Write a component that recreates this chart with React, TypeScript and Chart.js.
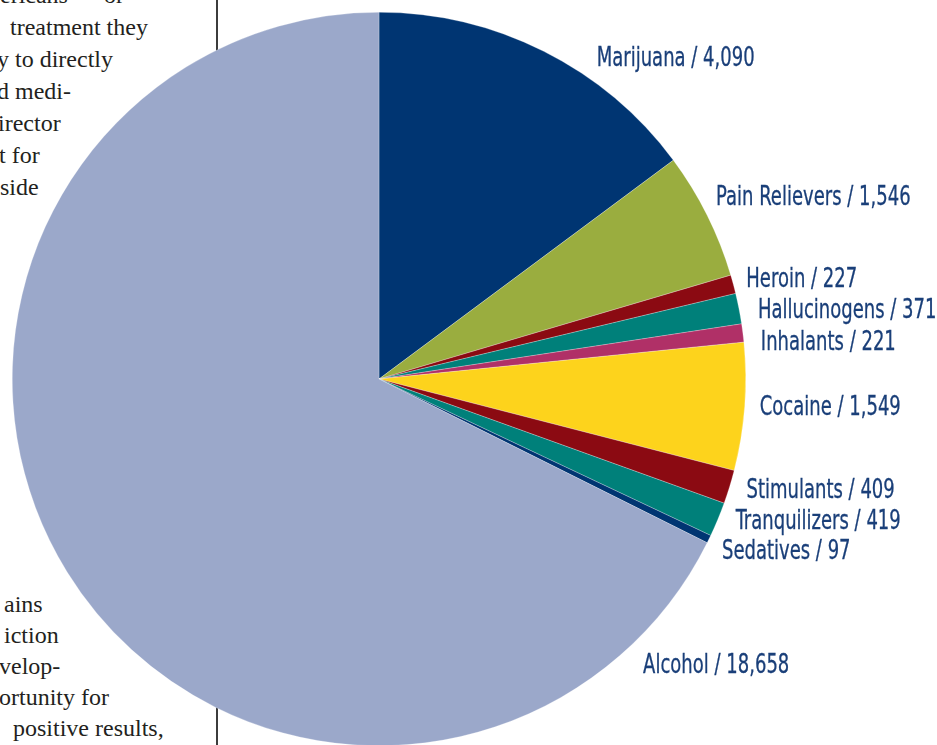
import React, { useEffect, useRef } from "react";
import { Chart, registerables } from "chart.js";

Chart.register(...registerables);

const categories = [
  "Marijuana",
  "Pain Relievers",
  "Heroin",
  "Hallucinogens",
  "Inhalants",
  "Cocaine",
  "Stimulants",
  "Tranquilizers",
  "Sedatives",
  "Alcohol",
];
const admissions = [4090, 1546, 227, 371, 221, 1549, 409, 419, 97, 18658];
const sliceColors = [
  "#003572",
  "#9aad3f",
  "#8b0a12",
  "#00807a",
  "#b03067",
  "#fdd31c",
  "#8b0a12",
  "#00807a",
  "#003572",
  "#9ba8ca",
];
// label placement: where along the arc the anchor sits (0..1) and pixel nudge from the rim
const labelAnchorFrac = [0.5, 0.5, 0.5, 0.5, 0.5, 0.5, 0.5, 0.5, 0.5, 0.085];
const labelNudge: [number, number][] = [
  [53, 8],
  [9, -17],
  [13, -4],
  [19, 3],
  [18, 10],
  [15, 1],
  [17, 4],
  [18, 3],
  [13, 13],
  [15, 18],
];

const topLines: [string, number, number][] = [
  ["ericans \u2014 or", 0, 3],
  ["treatment they", 10, 35],
  ["y to directly", -3, 67],
  ["d medi-", -3, 99],
  ["irector", -2, 131],
  ["t for", -1, 163],
  ["side", 0, 195],
];
const bottomLines: [string, number, number][] = [
  ["ains", 4, 612],
  ["iction", 4, 643],
  ["velop-", -1, 674],
  ["ortunity for", -1, 705],
  ["positive results,", 13, 736],
];

const fmt = (v: number) => v.toLocaleString("en-US");

const labelPlugin = {
  id: "sliceLabels",
  afterDatasetsDraw(chart: any) {
    const ctx = chart.ctx;
    const meta = chart.getDatasetMeta(0);
    meta.data.forEach((arc: any, i: number) => {
      const p = arc.getProps(["x", "y", "startAngle", "endAngle", "outerRadius"], true);
      const a = p.startAngle + labelAnchorFrac[i] * (p.endAngle - p.startAngle);
      const ex = p.x + Math.cos(a) * p.outerRadius;
      const ey = p.y + Math.sin(a) * p.outerRadius;
      const [dx, dy] = labelNudge[i];
      const text = `${categories[i]} / ${fmt(admissions[i])}`;
      ctx.save();
      ctx.font = '26px "DejaVu Sans Condensed", "DejaVu Sans", sans-serif';
      ctx.fillStyle = "#1a3f79";
      ctx.strokeStyle = "#1a3f79";
      ctx.lineWidth = 0.3;
      ctx.textAlign = "left";
      ctx.textBaseline = "middle";
      ctx.translate(ex + dx, ey + dy);
      ctx.scale(0.77, 1);
      ctx.fillText(text, 0, 0);
      ctx.strokeText(text, 0, 0);
      ctx.restore();
    });
  },
};

function PieChart() {
  const ref = useRef<HTMLCanvasElement | null>(null);
  useEffect(() => {
    if (!ref.current) return;
    const chart = new Chart(ref.current, {
      type: "pie",
      data: {
        labels: categories,
        datasets: [
          {
            data: admissions,
            backgroundColor: sliceColors,
            borderWidth: 0.5,
            borderColor: "rgba(255,255,255,0.5)",
          },
        ],
      },
      options: {
        responsive: false,
        animation: false,
        layout: { padding: { left: 12, top: 12, right: 191, bottom: 14 } },
        plugins: {
          legend: { display: false },
          tooltip: { enabled: false },
        },
      },
      plugins: [labelPlugin],
    });
    return () => chart.destroy();
  }, []);
  return <canvas ref={ref} width={937} height={760} style={{ width: 937, height: 760, display: "block" }} />;
}

const lineStyle = (x: number, baseline: number): React.CSSProperties => ({
  position: "absolute",
  left: x,
  top: baseline - 20,
  fontFamily: '"Liberation Serif", "DejaVu Serif", serif',
  fontSize: 24,
  lineHeight: "24px",
  color: "#231f20",
  whiteSpace: "nowrap",
});

export default function App() {
  return (
    <div
      style={{
        position: "fixed",
        left: 0,
        top: 0,
        width: 937,
        height: 745,
        overflow: "hidden",
        background: "#ffffff",
      }}
    >
      {topLines.concat(bottomLines).map(([t, x, b], i) => (
        <div key={i} style={lineStyle(x, b)}>
          {t}
        </div>
      ))}
      <div
        style={{
          position: "absolute",
          left: 216,
          top: 0,
          width: 1.5,
          height: 745,
          background: "#3c3c3c",
        }}
      />
      <div style={{ position: "absolute", left: 0, top: 0 }}>
        <PieChart />
      </div>
    </div>
  );
}
